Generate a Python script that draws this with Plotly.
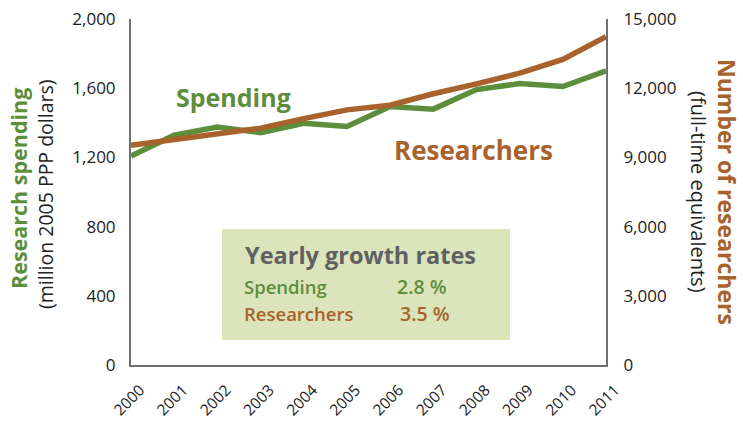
import plotly.graph_objects as go

years = ["2000", "2001", "2002", "2003", "2004", "2005", "2006", "2007", "2008", "2009", "2010", "2011"]
spending = [1208, 1328, 1375, 1343, 1397, 1379, 1494, 1479, 1592, 1627, 1610, 1700]
researchers = [9530, 9780, 10030, 10270, 10680, 11060, 11260, 11760, 12190, 12650, 13250, 14230]

growth_labels = ["Spending", "Researchers"]
growth_values = ["2.8 %", "3.5 %"]

GREEN = "#5c8e3b"
BROWN = "#a8622b"
GRAY = "#5f6062"
AXIS = "#707070"
FONT = "Open Sans"

fig = go.Figure()
fig.add_trace(go.Scatter(x=years, y=spending, mode="lines", line=dict(color=GREEN, width=5.5),
                         yaxis="y", showlegend=False))
fig.add_trace(go.Scatter(x=years, y=researchers, mode="lines", line=dict(color=BROWN, width=5.5),
                         yaxis="y2", showlegend=False))

L, R, T, B = 131, 137, 19, 56
W, H = 743, 421
pw, ph = W - L - R, H - T - B

def px(x):
    return (x - L) / pw

def py(y):
    return (H - B - y) / ph

fig.update_layout(
    width=W, height=H,
    margin=dict(l=L, r=R, t=T, b=B, pad=0, autoexpand=False),
    paper_bgcolor="white", plot_bgcolor="white",
    font=dict(family=FONT, size=16, color="#222222"),
    xaxis=dict(type="category", showline=True, linecolor=AXIS, linewidth=2,
               ticks="", showgrid=False, tickangle=-45, tickfont=dict(size=15.5),
               zeroline=False, automargin=False, ticklabelstandoff=8, ticklabelshift=9),
    yaxis=dict(range=[0, 2000], dtick=400, tickformat=",", showline=True, linecolor=AXIS,
               linewidth=2, ticks="", showgrid=False, zeroline=False, automargin=False,
               ticklabelstandoff=10, tickfont=dict(size=17)),
    yaxis2=dict(range=[0, 15000], dtick=3000, tickformat=",", overlaying="y", side="right",
                showline=True, linecolor=AXIS, linewidth=2, ticks="", showgrid=False,
                zeroline=False, automargin=False, ticklabelstandoff=12, tickfont=dict(size=17)),
)

# growth-rate box
fig.add_shape(type="rect", xref="paper", yref="paper",
              x0=px(222), x1=px(510), y0=py(340), y1=py(229),
              fillcolor="#dce4bb", line=dict(width=0), layer="below")

ann = []
ann.append(dict(text="<b>Spending</b>", x=px(233), y=py(97), font=dict(size=25, color=GREEN)))
ann.append(dict(text="<b>Researchers</b>", x=px(473), y=py(150), font=dict(size=26, color=BROWN)))
ann.append(dict(text="<b>Yearly growth rates</b>", x=px(243), y=py(255), xanchor="left",
                font=dict(size=23.5, color=GRAY)))
colors = [GREEN, BROWN]
rows_y = [286, 313]
vals_x = [395, 398]
for lab, val, c, yy, vx in zip(growth_labels, growth_values, colors, rows_y, vals_x):
    ann.append(dict(text=lab, x=px(242), y=py(yy), xanchor="left",
                    font=dict(size=18.5, color=c, weight=600)))
    ann.append(dict(text=val, x=px(vx), y=py(yy), xanchor="left",
                    font=dict(size=19.5, color=c, weight=600)))

# axis titles
ann.append(dict(text="<b>Research spending</b>", x=px(18), y=py(189), textangle=-90,
                font=dict(size=21.5, color=GREEN)))
ann.append(dict(text="(million 2005 PPP dollars)", x=px(45), y=py(194), textangle=-90,
                font=dict(size=19.5, color="#222222")))
ann.append(dict(text="<b>Number of researchers</b>", x=px(727), y=py(192), textangle=90,
                font=dict(size=23, color=BROWN)))
ann.append(dict(text="(full-time equivalents)", x=px(699), y=py(192), textangle=90,
                font=dict(size=20, color="#222222")))

for a in ann:
    a.setdefault("xanchor", "center")
    a.setdefault("yanchor", "middle")
    a.update(xref="paper", yref="paper", showarrow=False)
    fig.add_annotation(**a)

fig.write_html("out.html", config={"displayModeBar": False},
               post_script="document.body.style.margin='0';document.body.style.overflow='hidden';")
